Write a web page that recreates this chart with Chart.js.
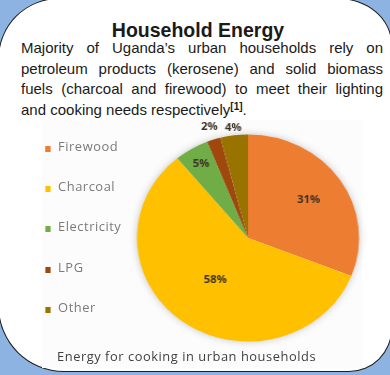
<!DOCTYPE html>
<html>
<head>
<meta charset="utf-8">
<script src="https://cdn.jsdelivr.net/npm/chart.js@4.4.0/dist/chart.umd.min.js"></script>
<style>
  html, body { margin: 0; padding: 0; }
  body {
    width: 390px; height: 375px; position: relative; overflow: hidden;
    background: #8db3e2;
    font-family: "Liberation Sans", Arial, sans-serif;
  }
  #card {
    position: absolute; left: -2px; top: -2px; width: 394px; height: 373.5px;
    box-sizing: border-box; background: #fff; border: 1.5px solid #1e1e1e;
    border-top-left-radius: 61px;
    border-top-right-radius: 54px 46px;
    border-bottom-right-radius: 43px;
    border-bottom-left-radius: 66px;
  }
  #title {
    position: absolute; left: 3px; top: 20.5px; width: 390px; text-align: center;
    font-weight: bold; font-size: 19.5px; line-height: 19.5px; color: #1a1a1a;
  }
  #intro { position: absolute; left: 21px; top: 38px; width: 362px; color: #1a1a1a; font-size: 15px; }
  #intro div { height: 20.5px; line-height: 20.5px; text-align: justify; text-align-last: justify; }
  #intro div.last { text-align: left; text-align-last: left; }
  #intro sup { font-size: 10px; font-weight: bold; vertical-align: 5px; line-height: 0; }
  #block {
    position: absolute; left: 42px; top: 120px; width: 298px; height: 248px;
    background: #fcfcfc; transform: scaleX(1.073); transform-origin: 0 0;
    font-family: "Open Sans", sans-serif;
  }
  #pie { position: absolute; left: 74px; top: 0; }
  .key { position: absolute; width: 5.6px; height: 6px; }
  .lbl { position: absolute; font-size: 12px; line-height: 14px; letter-spacing: 0.5px; color: #7a7a7a; white-space: nowrap; }
  #caption {
    position: absolute; left: 14px; top: 229px; font-size: 12px; line-height: 16px;
    letter-spacing: 0.5px; color: #3f3f3f; white-space: nowrap;
  }
</style>
</head>
<body>
<div id="card"></div>
<div id="title">Household Energy</div>
<div id="intro">
  <div>Majority of Uganda’s urban households rely on</div>
  <div>petroleum products (kerosene) and solid biomass</div>
  <div>fuels (charcoal and firewood) to meet their lighting</div>
  <div class="last">and cooking needs respectively<sup>[1]</sup>.</div>
</div>
<div id="block">
  <canvas id="pie" width="236" height="236"></canvas>
  <div id="caption">Energy for cooking in urban households</div>
</div>
<script>
// energy sources used for cooking (percent of urban households)
const categories = ['Firewood', 'Charcoal', 'Electricity', 'LPG', 'Other'];
const shares = [31, 58, 5, 2, 4];
const colors = ['#ED7D31', '#FFC000', '#70AD47', '#9E480E', '#997300'];

// legend on the left, one row every ~40px
const block = document.getElementById('block');
categories.forEach((name, i) => {
  const top = 20 + i * 40.2;
  const sq = document.createElement('div');
  sq.className = 'key';
  sq.style.left = '2.8px';
  sq.style.top = (top + 6) + 'px';
  sq.style.background = colors[i];
  block.appendChild(sq);
  const t = document.createElement('div');
  t.className = 'lbl';
  t.style.left = '15px';
  t.style.top = top + 'px';
  t.textContent = name;
  block.appendChild(t);
});

// soft halo under the pie, like the office chart
const pieShadow = {
  id: 'pieShadow',
  beforeDatasetsDraw(chart) {
    const arc = chart.getDatasetMeta(0).data[0];
    if (!arc) return;
    const ctx = chart.ctx;
    ctx.save();
    ctx.shadowColor = 'rgba(0,0,0,0.28)';
    ctx.shadowBlur = 8;
    ctx.beginPath();
    ctx.arc(arc.x, arc.y, arc.outerRadius - 1, 0, Math.PI * 2);
    ctx.fillStyle = '#fff';
    ctx.fill();
    ctx.restore();
  }
};

// percent labels, each at its own distance from the centre
const pctLabels = {
  id: 'pctLabels',
  afterDatasetsDraw(chart, args, opts) {
    const ctx = chart.ctx;
    const ds = chart.data.datasets[0];
    ctx.save();
    ctx.font = 'bold 10.5px "Open Sans", sans-serif';
    ctx.fillStyle = opts.color;
    ctx.textAlign = 'center';
    ctx.textBaseline = 'middle';
    chart.getDatasetMeta(0).data.forEach((arc, i) => {
      const mid = (arc.startAngle + arc.endAngle) / 2;
      const r = arc.outerRadius * opts.offsets[i];
      ctx.fillText(ds.data[i] + '%', arc.x + Math.cos(mid) * r, arc.y + Math.sin(mid) * r);
    });
    ctx.restore();
  }
};

const ctx = document.getElementById('pie').getContext('2d');
new Chart(ctx, {
  type: 'pie',
  data: {
    labels: categories,
    datasets: [{
      data: shares,
      backgroundColor: colors,
      borderWidth: 0
    }]
  },
  options: {
    responsive: false,
    animation: false,
    radius: 103.5,
    layout: { padding: 0 },
    plugins: {
      legend: { display: false },
      tooltip: { enabled: false },
      pctLabels: { color: '#3a3226', offsets: [0.66, 0.5, 0.83, 1.13, 1.07] }
    }
  },
  plugins: [pieShadow, pctLabels]
});
</script>
</body>
</html>
